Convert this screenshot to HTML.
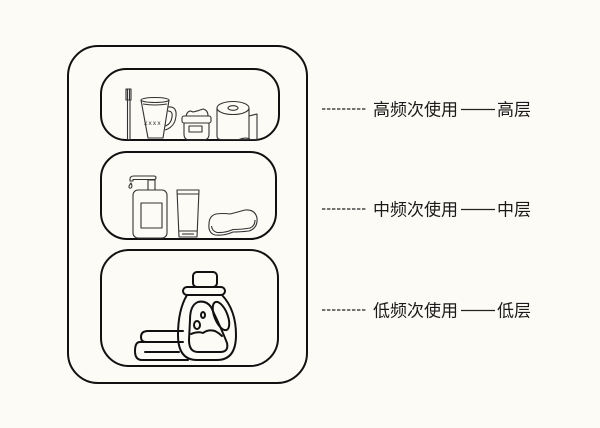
<!DOCTYPE html>
<html><head><meta charset="utf-8"><style>
html,body{margin:0;padding:0;background:#fcfbf6;}
svg{display:block;}
</style></head><body>
<svg width="600" height="428" viewBox="0 0 600 428" xmlns="http://www.w3.org/2000/svg">
<rect width="600" height="428" fill="#fcfbf6"/>
<g fill="none" stroke="#111" stroke-width="2">
<rect x="68" y="46" width="239" height="337" rx="30"/>
<rect x="101" y="69" width="178" height="71" rx="25"/>
<rect x="101" y="152" width="175" height="87" rx="26"/>
<rect x="101" y="250" width="177" height="116" rx="28"/>
</g>
<!-- top shelf -->
<g fill="none" stroke="#333" stroke-width="1.1" stroke-linejoin="round">
<rect x="126" y="89" width="5" height="11"/>
<line x1="127.5" y1="89" x2="127.5" y2="100"/><line x1="129.5" y1="89" x2="129.5" y2="100"/>
<rect x="127.5" y="100" width="2.5" height="39.5"/>
<path d="M141 100 L148 138 L163 138 L169 100"/>
<ellipse cx="155" cy="100" rx="14" ry="2.5"/>
<path d="M143 104 Q155 106 167 104"/>
<path d="M168 107 Q177 106 176 116 Q175 127 165 130"/>
<path d="M168 111 Q173 111 172 117 Q171 124 165.5 126"/>
<path d="M186 116 Q188 109 193 112 Q198 111 203 109 Q208 110 208 116"/>
<rect x="182" y="116" width="29" height="7" rx="2"/>
<path d="M184 123 L184 134 Q184 140 190 140 L203 140 Q209 140 209 134 L209 123"/>
<rect x="189" y="126" width="13" height="6"/>
<ellipse cx="233" cy="108" rx="16" ry="6.5"/>
<ellipse cx="233" cy="108" rx="5" ry="2.3"/>
<path d="M217 108 L217 136 Q217 139.5 221 139.5 L257 139.5 L257 114 L249 116"/>
<path d="M249 108 L249 139"/>
<path d="M239 139.5 Q245 137 250 139"/>
</g>
<g font-family="Liberation Sans, sans-serif" font-size="6.5" fill="#333">
<text x="144" y="125" letter-spacing="1.2">xxxx</text>
</g>
<!-- middle shelf -->
<g fill="none" stroke="#333" stroke-width="1.1" stroke-linejoin="round">
<path d="M154 176 L134 176 Q130 176 130 179 L130 181 L133 181 L133 179.5 L154 179.5 Q156 179.5 156 177.8 Q156 176 154 176 Z"/>
<path d="M131 183 Q128.5 186 129 187.5 Q130 189 131.5 187.5 Q132.5 186 131 183 Z"/>
<rect x="148" y="180" width="7" height="10"/>
<rect x="133" y="190" width="34" height="48" rx="5"/>
<rect x="141" y="203" width="21" height="25"/>
<path d="M177 190 L199 190 L197 237 L179 237 Z"/>
<line x1="177.3" y1="194" x2="198.8" y2="194"/>
<line x1="178.6" y1="231" x2="197.4" y2="231"/>
<line x1="182" y1="234" x2="194" y2="234"/>
<path d="M209 224 Q209 216 216 214 Q223 213 230 214 Q238 212 245 210 Q255 209 257 218 Q258 228 249 231 Q240 232 233 232 Q224 236 215 235 Q208 233 209 224 Z"/>
<path d="M211.5 226 Q212 231 217 232.5 Q225 233 233 229.5 Q242 229.5 250 228 Q255 226 255 220"/>
</g>
<!-- bottom shelf -->
<g fill="none" stroke="#111" stroke-width="2" stroke-linejoin="round" stroke-linecap="round">
<rect x="193" y="272" width="24" height="15" rx="4"/>
<rect x="183" y="287" width="42" height="8" rx="4"/>
<path d="M187 295 Q178 310 178 335 Q178 360 197 360 L217 360 Q236 360 236 335 Q236 310 222 295"/>
<path d="M198 302 Q190 305 190 320 L189 340 Q189 352 198 352 L220 352 Q229 352 227 343 Q222 330 211 307 Q206 300 198 302 Z"/>
<path d="M191 334 Q198 331 203 333 Q208 329 215 331 Q219 333 222 336"/>
<ellipse cx="221" cy="316" rx="6.5" ry="15" transform="rotate(-22 221 316)"/>
<ellipse cx="203" cy="315" rx="2" ry="3"/>
<ellipse cx="197" cy="325" rx="3" ry="4"/>
<path d="M183 331 L148 331 Q141 331 141 337 Q141 342 146 342"/>
<path d="M183 342 L140 342 Q135 342 135 351 Q135 360 142 360 L188 360"/>
<line x1="145" y1="352" x2="179" y2="352"/>
</g>
<!-- labels -->
<g stroke="#222" stroke-width="1.3">
<line x1="322" y1="109" x2="366" y2="109" stroke-dasharray="3.4 1.6"/>
<line x1="461" y1="109.5" x2="495" y2="109.5"/>
<line x1="322" y1="209" x2="366" y2="209" stroke-dasharray="3.4 1.6"/>
<line x1="461" y1="209.5" x2="495" y2="209.5"/>
<line x1="322" y1="310" x2="366" y2="310" stroke-dasharray="3.4 1.6"/>
<line x1="461" y1="310.5" x2="495" y2="310.5"/>
</g>
<g font-family="Liberation Sans, 'Noto Sans CJK SC', sans-serif" font-size="17" fill="#1a1a1a">
<text x="373" y="115.5">高频次使用</text>
<text x="497" y="115.5">高层</text>
<text x="373" y="215.5">中频次使用</text>
<text x="497" y="215.5">中层</text>
<text x="373" y="316.5">低频次使用</text>
<text x="497" y="316.5">低层</text>
</g>
</svg>
</body></html>
